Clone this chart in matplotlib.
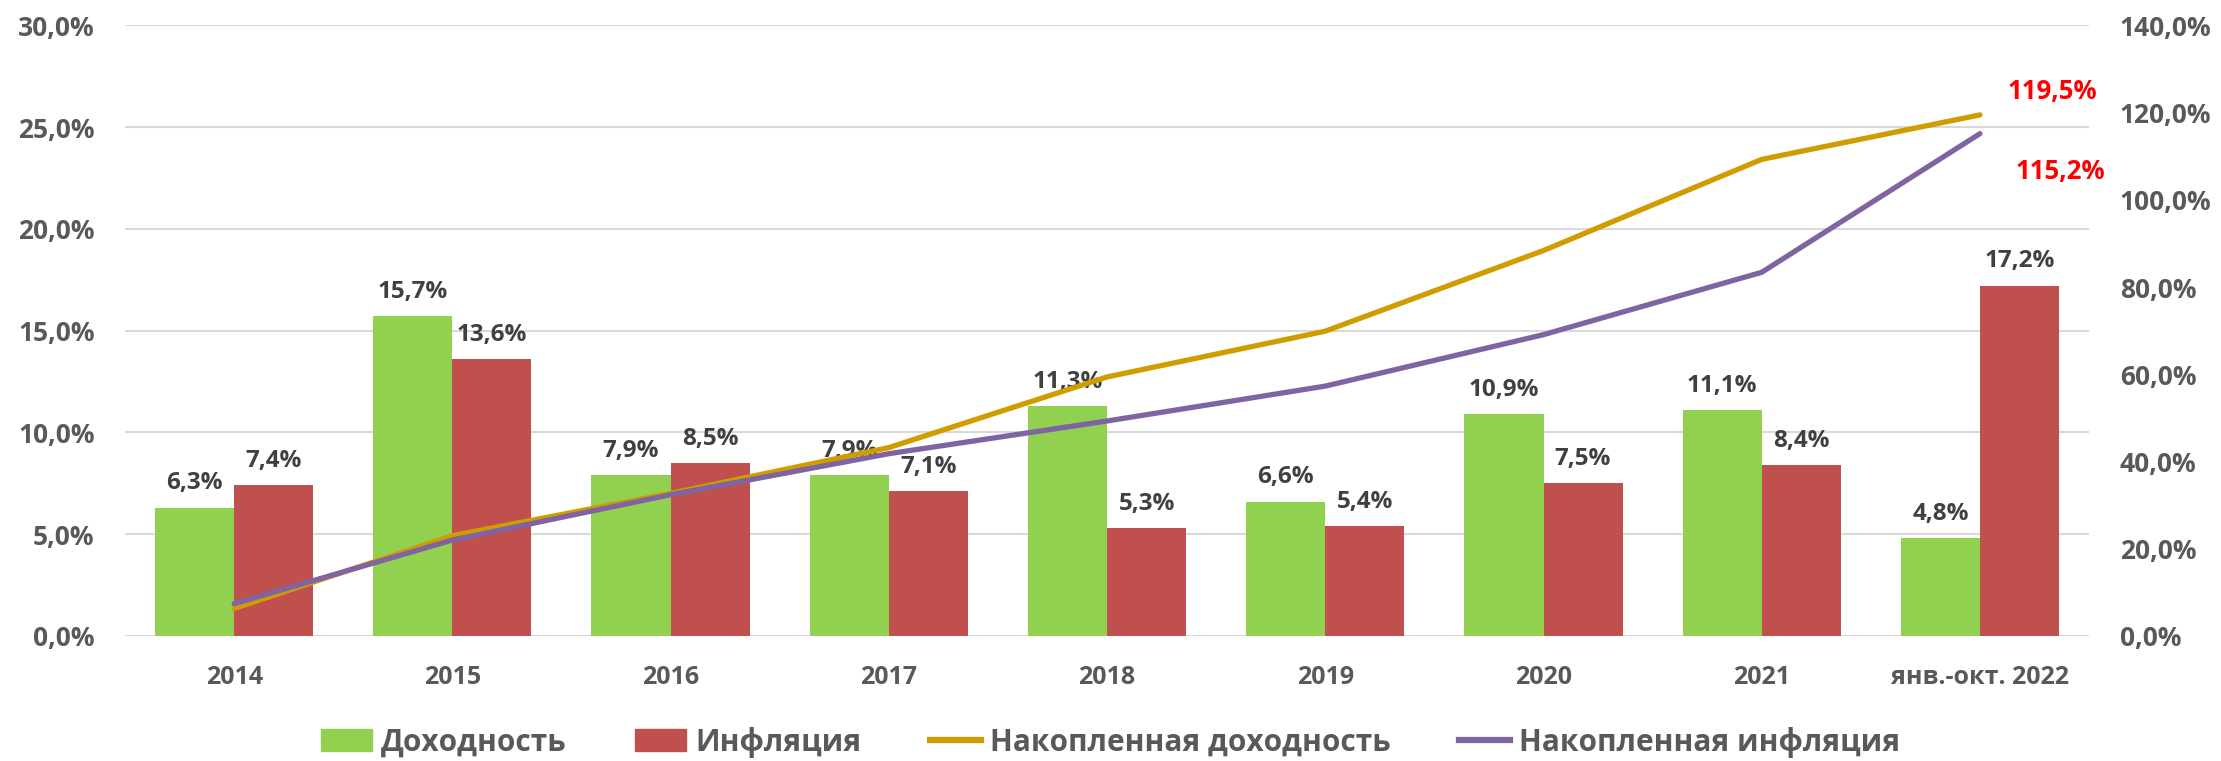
import matplotlib
matplotlib.use("Agg")
import matplotlib.pyplot as plt
from matplotlib.lines import Line2D
from matplotlib.patches import Patch
from matplotlib.ticker import FuncFormatter
import numpy as np

categories = ["2014", "2015", "2016", "2017", "2018", "2019", "2020", "2021", "янв.-окт. 2022"]
yield_pct = [6.3, 15.7, 7.9, 7.9, 11.3, 6.6, 10.9, 11.1, 4.8]
inflation_pct = [7.4, 13.6, 8.5, 7.1, 5.3, 5.4, 7.5, 8.4, 17.2]
cum_yield = [6.3, 23.0, 32.7, 43.2, 59.4, 69.9, 88.4, 109.3, 119.5]
cum_inflation = [7.4, 22.0, 32.4, 41.8, 49.3, 57.3, 69.1, 83.4, 115.2]
left_ticks = [0, 5, 10, 15, 20, 25, 30]
right_ticks = [0, 20, 40, 60, 80, 100, 120, 140]

plt.rcParams['font.family'] = ['Open Sans', 'DejaVu Sans']
plt.rcParams['font.weight'] = 'bold'

GREEN = "#92D050"
RED = "#C0504D"
GOLD = "#CF9D00"
PURPLE = "#8064A2"
GRID = "#D9D9D9"
TICK = "#595959"
LABEL = "#404040"

fig = plt.figure(figsize=(22.21, 7.61), dpi=100)
ax = fig.add_axes([0.0563, 0.1643, 0.8843, 0.8022])
ax2 = ax.twinx()

x = np.arange(len(categories))
w = 0.3625
b1 = ax.bar(x - w/2, yield_pct, w, color=GREEN, zorder=2)
b2 = ax.bar(x + w/2, inflation_pct, w, color=RED, zorder=2)

fmt = FuncFormatter(lambda v, p: f"{v:.1f}%".replace(".", ","))

ax.set_ylim(0, 30)
ax.set_xlim(-0.5, len(categories) - 0.5)
ax.set_yticks(left_ticks)
ax.yaxis.set_major_formatter(fmt)
ax.grid(axis='y', color=GRID, linewidth=1.5, zorder=0)
ax.set_axisbelow(True)
for s in ax.spines.values():
    s.set_visible(False)
ax.tick_params(axis='both', length=0, labelsize=19, labelcolor=TICK)
ax.tick_params(axis='y', pad=22)
ax.tick_params(axis='x', pad=21, labelsize=18)
ax.set_xticks(x)
ax.set_xticklabels(categories)

for bars, vals in ((b1, yield_pct), (b2, inflation_pct)):
    for rect, v in zip(bars, vals):
        ax.annotate(f"{v:.1f}%".replace(".", ","), (rect.get_x() + rect.get_width()/2, v),
                    xytext=(0, 9), textcoords="offset points", ha='center', va='bottom',
                    fontsize=17.5, color=LABEL, fontweight='bold')

ax2.plot(x, cum_yield, color=GOLD, linewidth=3.8, solid_capstyle='round', zorder=3)
ax2.plot(x, cum_inflation, color=PURPLE, linewidth=3.8, solid_capstyle='round', zorder=3)
ax2.set_ylim(0, 140)
ax2.set_yticks(right_ticks)
ax2.yaxis.set_major_formatter(fmt)
for s in ax2.spines.values():
    s.set_visible(False)
ax2.tick_params(axis='y', length=0, labelsize=19, labelcolor=TICK, pad=22)

ax2.annotate(f"{cum_yield[-1]:.1f}%".replace(".", ","), (x[-1], cum_yield[-1]),
             xytext=(52, 17), textcoords="offset points", ha='center', va='center',
             fontsize=18.5, color="#FF0000", fontweight='bold')
ax2.annotate(f"{cum_inflation[-1]:.1f}%".replace(".", ","), (x[-1], cum_inflation[-1]),
             xytext=(58, -27), textcoords="offset points", ha='center', va='center',
             fontsize=18.5, color="#FF0000", fontweight='bold')

handles = [Patch(color=GREEN), Patch(color=RED),
           Line2D([], [], color=GOLD, linewidth=4.5),
           Line2D([], [], color=PURPLE, linewidth=4.5)]
labels = ["Доходность", "Инфляция", "Накопленная доходность", "Накопленная инфляция"]
fig.legend(handles, labels, loc='center', bbox_to_anchor=(0.5, 1 - 742/761), ncol=4,
           frameon=False, fontsize=21.5, labelcolor=TICK, handlelength=1.7, handleheight=0.72,
           handletextpad=0.3, columnspacing=2.3)

fig.savefig("out.png", dpi=100)
